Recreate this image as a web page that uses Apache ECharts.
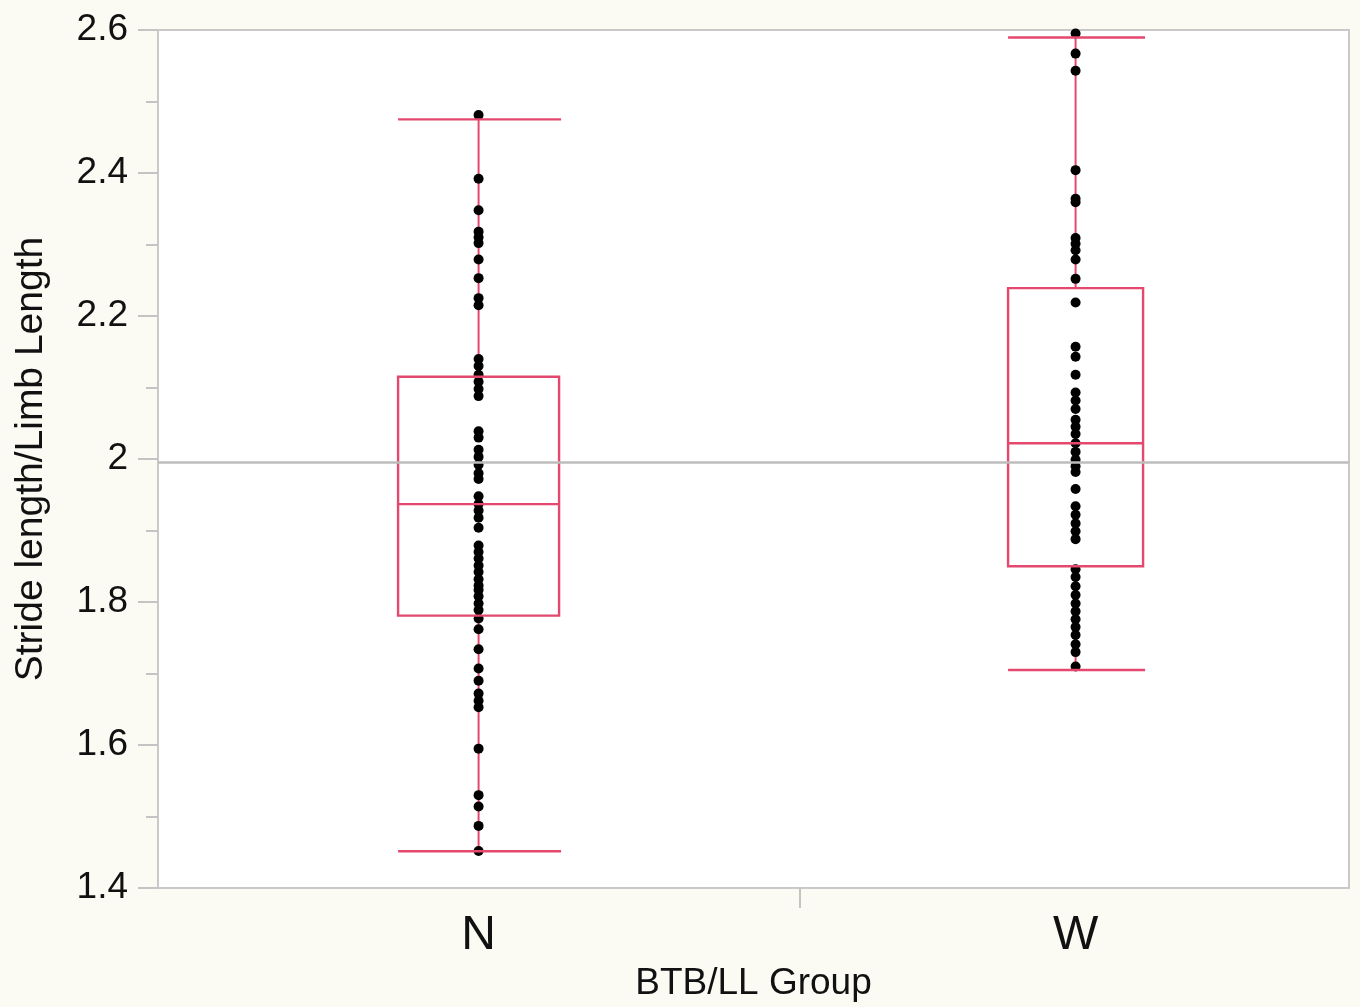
<!DOCTYPE html>
<html>
<head>
<meta charset="utf-8">
<script src="https://cdn.jsdelivr.net/npm/echarts@6/dist/echarts.min.js"></script>
<style>
  html, body { margin: 0; padding: 0; background: #fbfbf4; }
  #chart { width: 1360px; height: 1007px; }
</style>
</head>
<body>
<div id="chart"></div>
<script>
// ---------------- data ----------------
const categories = ['N', 'W'];
const categoryPositions = [1, 2];
const groupBoundary = [1.5385];

const valuesN = [
  2.481, 2.392, 2.348, 2.318, 2.310, 2.302, 2.279, 2.253, 2.225, 2.215,
  2.140, 2.130, 2.118, 2.108, 2.098, 2.088,
  2.039, 2.030,
  2.013, 2.003, 1.992, 1.980, 1.972,
  1.948, 1.937, 1.928, 1.918, 1.904,
  1.879, 1.870, 1.861, 1.851, 1.842, 1.832, 1.823,
  1.817, 1.808, 1.798, 1.789,
  1.777, 1.762,
  1.734, 1.707, 1.690, 1.672, 1.662, 1.653,
  1.595, 1.530, 1.514, 1.487, 1.452
];

const valuesW = [
  2.595, 2.567, 2.543, 2.404, 2.364, 2.359, 2.309, 2.301, 2.292, 2.279,
  2.252, 2.219, 2.157, 2.143, 2.118,
  2.093, 2.082, 2.070, 2.055, 2.045, 2.035, 2.022, 2.010,
  1.999, 1.990, 1.982, 1.958,
  1.934, 1.922, 1.910, 1.899, 1.888,
  1.846, 1.835, 1.822, 1.810, 1.798, 1.787, 1.776, 1.765, 1.754, 1.741, 1.730,
  1.710
];

// box stats: [lower whisker, Q1, median, Q3, upper whisker]
const boxN = [1.4515, 1.781, 1.937, 2.115, 2.475];
const boxW = [1.705, 1.850, 2.022, 2.239, 2.5895];

const referenceLine = 1.995;
const yTickLabels = ['1.4', '1.6', '1.8', '2', '2.2', '2.4', '2.6'];

// ---------------- styling constants ----------------
const BOX_PX = [161, 135];
const PINK = '#e4486f';
const FONT = '"Liberation Sans", Arial, Helvetica, sans-serif';

const boxData = [
  [categoryPositions[0]].concat(boxN),
  [categoryPositions[1]].concat(boxW)
];
const scatterData = valuesN.map(v => [categoryPositions[0], v])
  .concat(valuesW.map(v => [categoryPositions[1], v]));

function renderWhiskers(params, api) {
  const x = api.value(0);
  const lo = api.coord([x, api.value(1)]);
  const q1 = api.coord([x, api.value(2)]);
  const q3 = api.coord([x, api.value(4)]);
  const hi = api.coord([x, api.value(5)]);
  const style = { stroke: PINK, lineWidth: 2 };
  return {
    type: 'group',
    children: [
      { type: 'line', shape: { x1: hi[0], y1: hi[1], x2: q3[0], y2: q3[1] }, style: style },
      { type: 'line', shape: { x1: q1[0], y1: q1[1], x2: lo[0], y2: lo[1] }, style: style }
    ]
  };
}

function renderBox(params, api) {
  const x = api.value(0);
  const half = BOX_PX[params.dataIndex] / 2;
  const lo = api.coord([x, api.value(1)]);
  const q1 = api.coord([x, api.value(2)]);
  const med = api.coord([x, api.value(3)]);
  const q3 = api.coord([x, api.value(4)]);
  const hi = api.coord([x, api.value(5)]);
  const xc = med[0];
  const style = { stroke: PINK, lineWidth: 2.4, fill: null };
  return {
    type: 'group',
    children: [
      { type: 'rect', shape: { x: xc - half, y: q3[1], width: half * 2, height: q1[1] - q3[1] }, style: style },
      { type: 'line', shape: { x1: xc - half, y1: med[1], x2: xc + half, y2: med[1] }, style: style },
      { type: 'line', shape: { x1: xc - half, y1: hi[1], x2: xc + half + 2, y2: hi[1] }, style: style },
      { type: 'line', shape: { x1: xc - half, y1: lo[1], x2: xc + half + 2, y2: lo[1] }, style: style }
    ]
  };
}

const chart = echarts.init(document.getElementById('chart'));
chart.setOption({
  backgroundColor: '#fbfbf4',
  animation: false,
  grid: {
    left: 158, right: 11, top: 30, bottom: 117,
    show: true, backgroundColor: '#ffffff', borderColor: '#c9c9c9', borderWidth: 2
  },
  xAxis: {
    type: 'value',
    min: 0.463,
    max: 2.458,
    splitLine: { show: false },
    axisLine: { show: true, lineStyle: { color: '#c9c9c9', width: 2 } },
    axisTick: {
      show: true, inside: false, length: 20, customValues: groupBoundary,
      lineStyle: { color: '#c4c4c4', width: 2 }
    },
    axisLabel: {
      customValues: categoryPositions,
      formatter: v => categories[categoryPositions.indexOf(Math.round(v))] || '',
      fontSize: 48, color: '#111', fontFamily: FONT, margin: 24
    },
    name: 'BTB/LL Group',
    nameLocation: 'middle',
    nameGap: 76,
    nameTextStyle: { fontSize: 37, color: '#111', fontFamily: FONT }
  },
  yAxis: {
    type: 'value',
    min: 1.4,
    max: 2.6,
    interval: 0.2,
    splitLine: { show: false },
    axisLine: { show: true, lineStyle: { color: '#c9c9c9', width: 2 } },
    axisTick: { show: true, inside: false, length: 20, lineStyle: { color: '#c4c4c4', width: 2 } },
    minorTick: { show: true, splitNumber: 2, length: 12, lineStyle: { color: '#c4c4c4', width: 2 } },
    minorSplitLine: { show: false },
    axisLabel: {
      formatter: v => yTickLabels[Math.round((v - 1.4) / 0.2)],
      fontSize: 37, color: '#111', fontFamily: FONT, margin: 30
    },
    name: 'Stride length/Limb Length',
    nameLocation: 'middle',
    nameGap: 107,
    nameRotate: 90,
    nameTextStyle: { fontSize: 39, color: '#111', fontFamily: FONT }
  },
  series: [
    {
      type: 'custom',
      name: 'whiskers',
      z: 1,
      renderItem: renderWhiskers,
      data: boxData,
      encode: { x: 0, y: [1, 2, 3, 4, 5] }
    },
    {
      type: 'scatter',
      name: 'points',
      z: 2,
      symbolSize: 10,
      itemStyle: { color: '#000000', opacity: 1 },
      data: scatterData,
      markLine: {
        silent: true,
        symbol: 'none',
        precision: 4,
        label: { show: false },
        lineStyle: { color: '#bdbdbd', width: 2.5, type: 'solid' },
        data: [{ yAxis: referenceLine }]
      }
    },
    {
      type: 'custom',
      name: 'boxes',
      z: 3,
      renderItem: renderBox,
      data: boxData,
      encode: { x: 0, y: [1, 2, 3, 4, 5] }
    }
  ]
});
</script>
</body>
</html>
